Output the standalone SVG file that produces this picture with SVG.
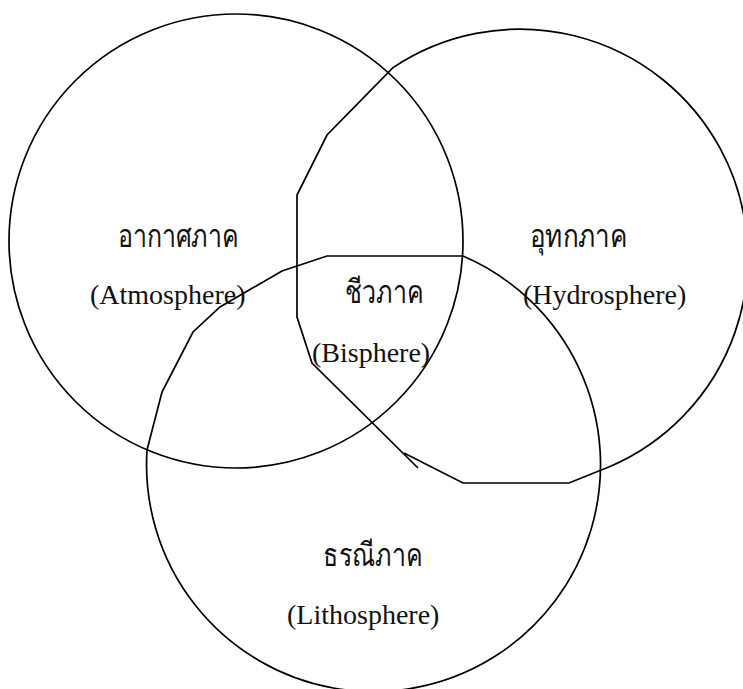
<svg xmlns="http://www.w3.org/2000/svg" width="743" height="689" viewBox="0 0 743 689">
<style>
.shape{fill:none;stroke:#000;stroke-width:1.7;stroke-linejoin:miter}
.en{font-family:"Liberation Serif","Times New Roman",serif;font-size:28px;fill:#111}
.th{font-family:"Liberation Serif",serif;font-size:32px;fill:#111}
</style>
<rect width="743" height="689" fill="#fff"/>
<g id="atmosphere">
<circle class="shape" cx="236" cy="241" r="227"/>
<text class="th" x="118" y="247" textLength="120" lengthAdjust="spacingAndGlyphs">อากาศภาค</text>
<text class="en" x="90" y="304">(Atmosphere)</text>
</g>
<g id="hydrosphere">
<path class="shape" d="M393,67.6 A228,228 0 1 1 610,466.5 L569,483 L463,483 L404,453 M418,468 L312,363 L297,317 L297,195 L327,135 L393,67.6"/>
<text class="th" x="530" y="247" textLength="97" lengthAdjust="spacingAndGlyphs">อุทกภาค</text>
<text class="en" x="523" y="304">(Hydrosphere)</text>
</g>
<g id="lithosphere">
<path class="shape" d="M463,256 A227,227 0 1 1 147,450 L162,392 L193,332 L220,307 L282,271 L327,256 Z"/>
<text class="th" x="323" y="566" textLength="99" lengthAdjust="spacingAndGlyphs">ธรณีภาค</text>
<text class="en" x="287" y="624">(Lithosphere)</text>
</g>
<g id="biosphere">
<text class="th" x="345" y="303" textLength="78" lengthAdjust="spacingAndGlyphs">ชีวภาค</text>
<text class="en" x="312" y="362">(Bisphere)</text>
</g>
<g id="connectors"></g>
</svg>
